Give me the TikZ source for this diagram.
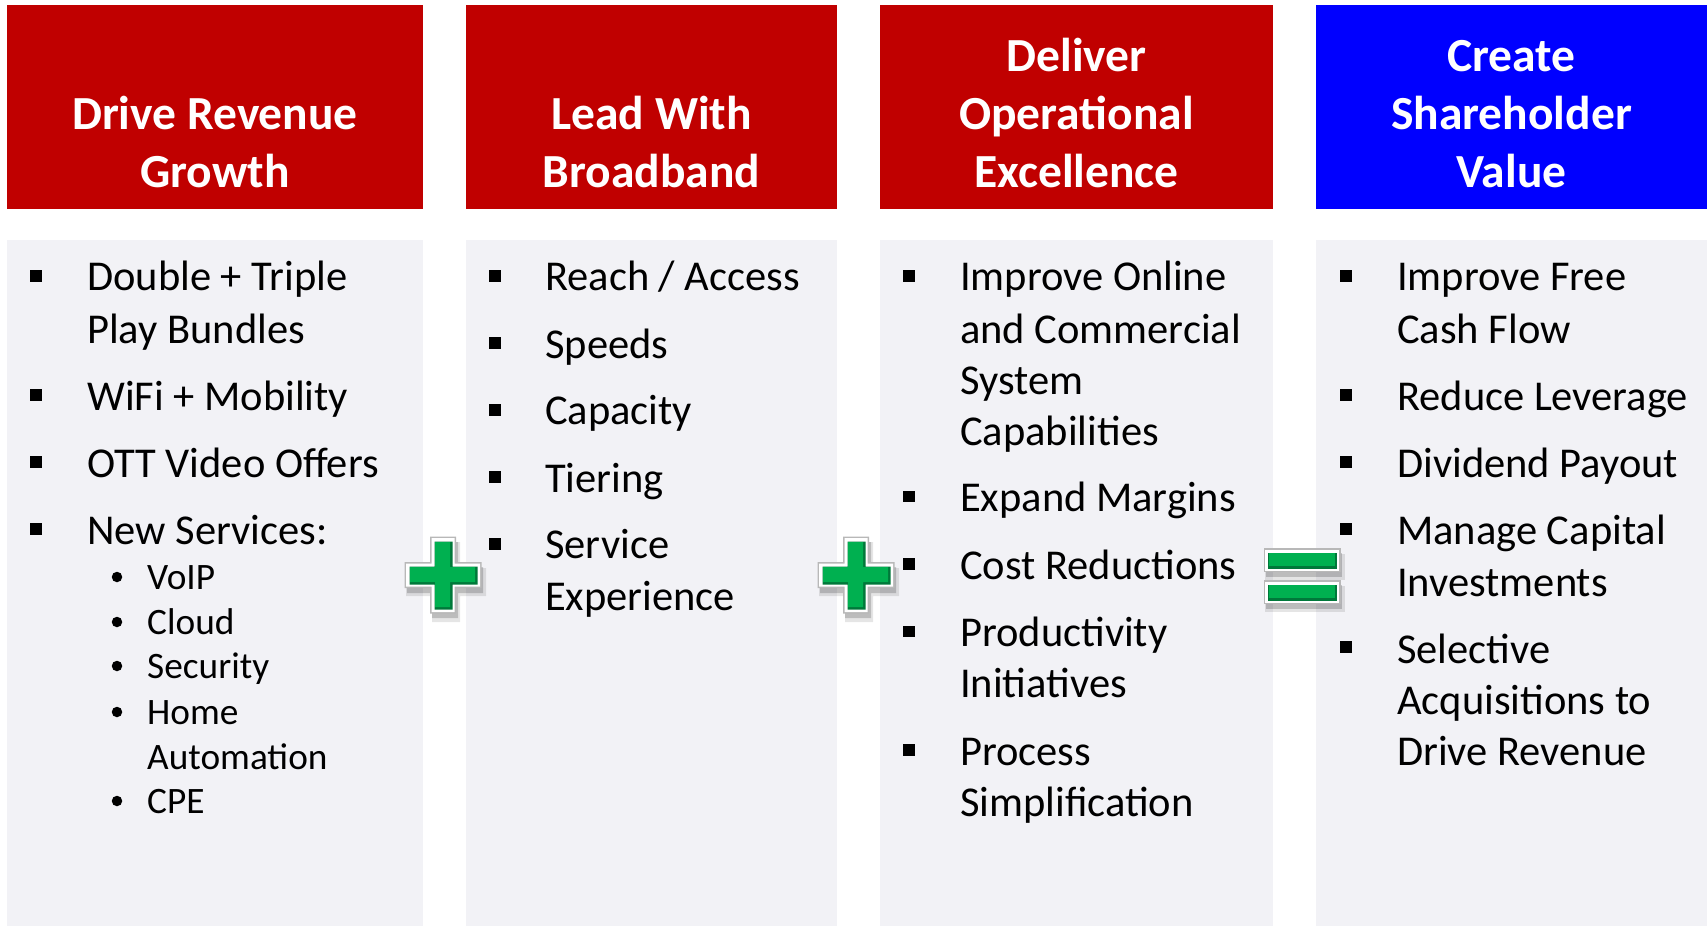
\documentclass[tikz,border=0pt]{standalone}
\usepackage{fontspec}
\setmainfont{Carlito}
\usetikzlibrary{positioning}

\definecolor{headred}{HTML}{C00000}
\definecolor{headblue}{HTML}{0000FF}
\definecolor{panel}{HTML}{F2F2F6}
\definecolor{signgreen}{HTML}{00B050}
\definecolor{signdark}{HTML}{00783A}

\tikzset{
  % green plus / equals signs, drawn in layers: shadow, rim, white, bevel, face
  plussign/.pic={
    \foreach \L/\T/\c/\o/\dx/\dy in {40/14/black/0.10/3/7, 38/13/black/0.18/2/5, 38.5/13/black!28/1/0/0, 37/11.5/white/1/0/0, 34/9/signdark/1/0.5/0.5, 32.5/7.5/signgreen/1/-0.5/-0.5}
      \fill[\c, opacity=\o, shift={(\dx,\dy)}] (-\L,-\T) rectangle (\L,\T) (-\T,-\L) rectangle (\T,\L);
  },
  equalsign/.pic={
    \foreach \s in {-16,16}
      \foreach \L/\T/\c/\o/\dx/\dy in {40/13/black/0.10/3/7, 38/12/black/0.18/2/5, 38.5/12/black!28/1/0/0, 37/10.5/white/1/0/0, 34.5/8/signdark/1/0.5/0.5, 33/6.5/signgreen/1/-0.5/-0.5}
        \fill[\c, opacity=\o, shift={(\dx,\dy+\s)}] (-\L,-\T) rectangle (\L,\T);
  }
}

\begin{document}
\begin{tikzpicture}[x=1pt,y=-1pt]
	\tikzstyle{Box}		= [anchor=north west, inner sep=0pt, outer sep=0pt]
	\tikzstyle{Panel}	= [Box, fill=panel]
	\tikzstyle{HeadText}	= [anchor=base, inner sep=0pt, text=white, font=\fontsize{47.5}{58}\selectfont\bfseries]
	\tikzstyle{Item}	= [anchor=base west, inner sep=0pt, font=\fontsize{42.5}{52}\selectfont]
	\tikzstyle{SubItem}	= [anchor=base west, inner sep=0pt, font=\fontsize{37.3}{45}\selectfont]
	\tikzstyle{Square}	= [fill=black, minimum size=11.5pt, inner sep=0pt]
	\tikzstyle{Dot}		= [circle, fill=black, minimum size=10.5pt, inner sep=0pt]

	\useasboundingbox (0,0) rectangle (1707,926);

	% header boxes and grey panels
	\foreach \n/\l/\r/\c in {1/7/423/headred, 2/466/837/headred, 3/880/1273/headred, 4/1316/1707/headblue} {
		\node (head\n) [Box, fill=\c, minimum width={\r-\l}, minimum height=204] at (\l,5) {};
		\node (panel\n) [Panel, minimum width={\r-\l}, minimum height=686] at (\l,240) {};
	}

	% header titles
	\foreach \x/\y/\t [count=\i] in {215/129/Drive Revenue, 215/187/Growth,
			651.5/129/Lead With, 651.5/187/Broadband,
			1076.5/71/Deliver, 1076.5/129/Operational, 1076.5/187/Excellence,
			1511.5/71/Create, 1511.5/129/Shareholder, 1511.5/187/Value}
		\node (title\i) [HeadText] at (\x,\y) {\t};

	% bullet items
	\foreach \x/\y/\t [count=\i] in {87/290.5/Double + Triple, 87/343/Play Bundles, 87/410/WiFi + Mobility,
			87/477/OTT Video Offers, 87/544/New Services:,
			545/290.5/{Reach / Access}, 545/358/Speeds, 545/424.5/Capacity, 545/492/Tiering,
			545/558.5/Service, 545/610.5/Experience,
			960/290.5/Improve Online, 960/343/and Commercial, 960/394/System, 960/445/Capabilities,
			960/511.5/Expand Margins, 960/579/Cost Reductions, 960/646.5/Productivity,
			960/697.5/Initiatives, 960/765/Process, 960/816/Simplification,
			1397/290.5/Improve Free, 1397/343/Cash Flow, 1397/410/Reduce Leverage,
			1397/477/Dividend Payout, 1397/544/Manage Capital, 1397/596/Investments,
			1397/663/Selective, 1397/714/Acquisitions to, 1397/765/Drive Revenue}
		\node (item\i) [Item] at (\x,\y) {\t};
	\foreach \x/\y/\t [count=\i] in {147/589.5/VoIP, 147/634.5/Cloud, 147/678.5/Security,
			147/724.5/Home, 147/769.5/Automation, 147/813.5/CPE}
		\node (sub\i) [SubItem] at (\x,\y) {\t};

	% bullet marks
	\foreach \x/\y [count=\i] in {36/276, 36/395, 36/462, 36/529,
			495/276, 495/343, 495/410, 495/477, 495/544,
			909/276, 909/496.5, 909/564, 909/631.5, 909/750,
			1346/276, 1346/395, 1346/462, 1346/529, 1346/647}
		\node (sq\i) [Square] at (\x,\y) {};
	\foreach \y [count=\i] in {577, 622, 666, 712, 801}
		\node (dot\i) [Dot] at (117,\y) {};

	% plus, plus, equals
	\pic at (443,575) {plussign};
	\pic at (856,575) {plussign};
	\pic at (1302,576) {equalsign};
\end{tikzpicture}
\end{document}
